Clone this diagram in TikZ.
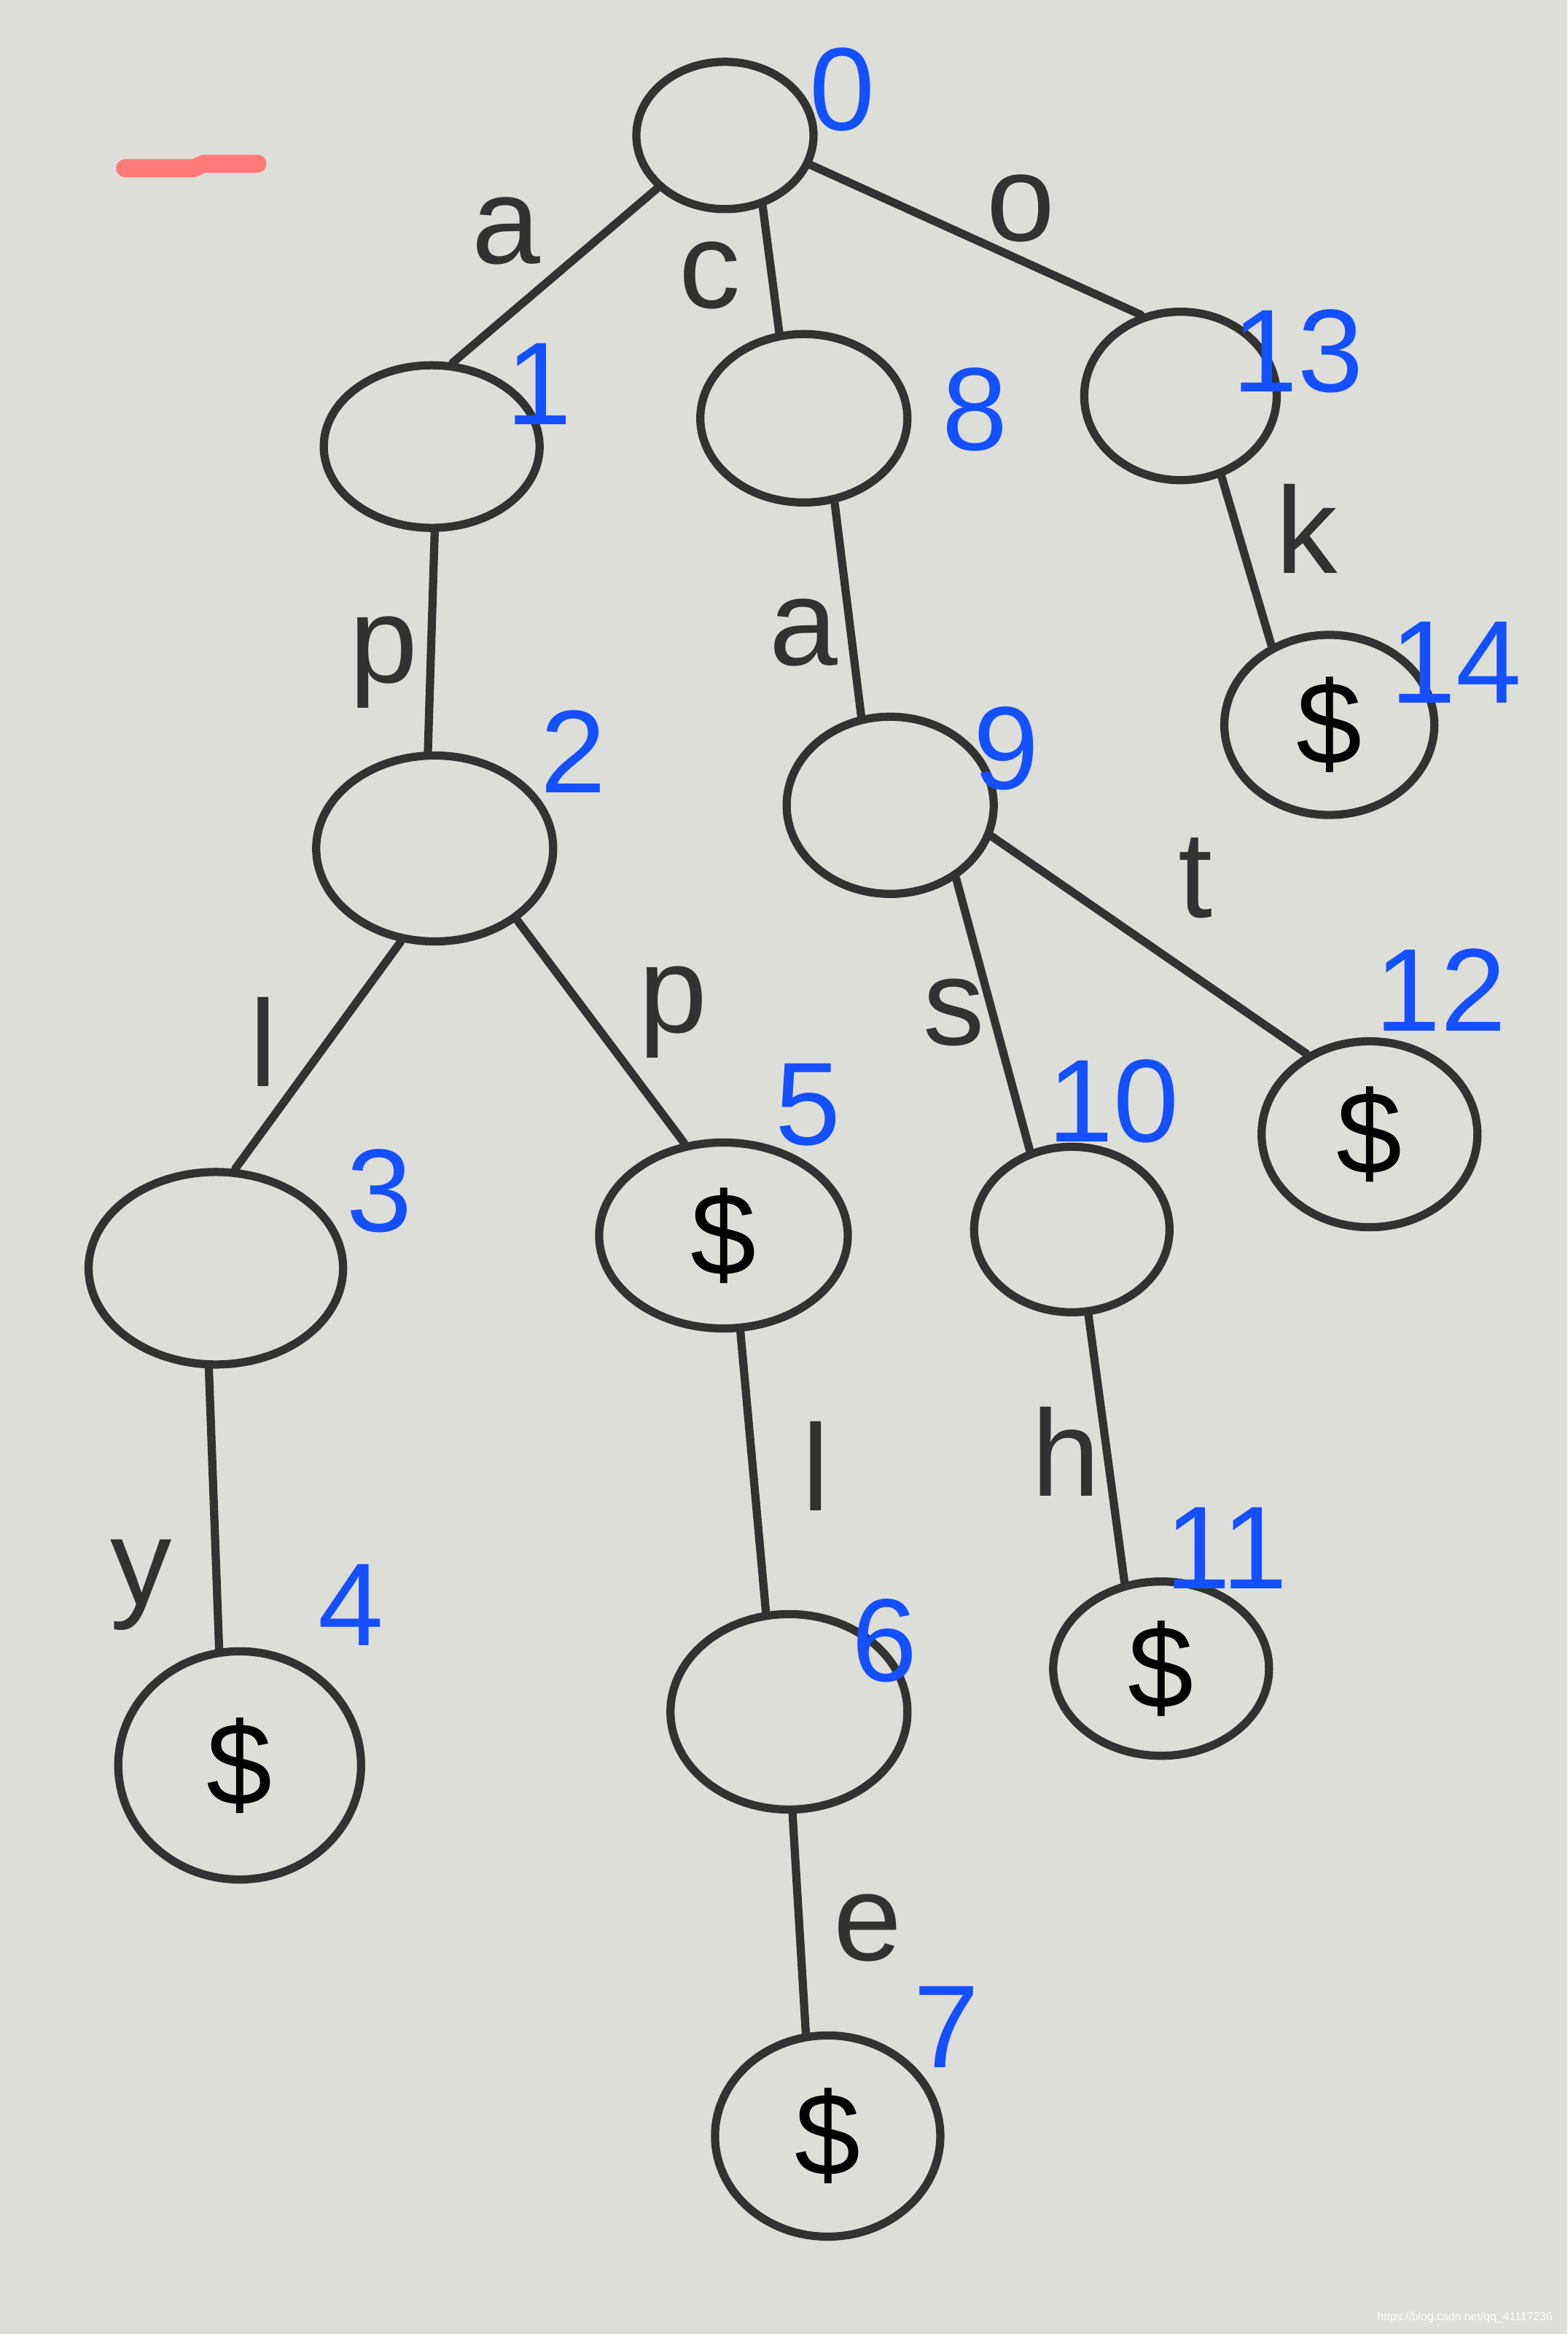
\documentclass[tikz,border=0pt]{standalone}
\usepackage{fontspec}
\setmainfont{Liberation Sans}
\usepackage{tikz}
\usetikzlibrary{shapes.geometric}
\definecolor{paper}{RGB}{222,222,216}
\definecolor{pen}{RGB}{50,50,50}
\definecolor{numblue}{RGB}{20,80,255}
\definecolor{marker}{RGB}{255,122,120}
\tikzset{ovalsize/.style 2 args={minimum width=#1cm,minimum height=#2cm}}
\begin{document}
\begin{tikzpicture}[x=0.020418cm,y=-0.020418cm]
\tikzstyle{state}=[draw=pen,shape=ellipse,line width=3.2pt,inner sep=0pt,font=\fontsize{46}{50}\selectfont];
\tikzstyle{letter}=[text=pen,font=\fontsize{48}{50}\selectfont];
\tikzstyle{num}=[text=numblue,font=\fontsize{46}{50}\selectfont];
\tikzstyle{edge}=[draw=pen,line width=3.2pt,line cap=round];
\fill[paper] (0,0) rectangle (1053,1568);
\draw[marker,line width=7pt,line cap=round] (84,113) -- (130,113) -- (137,110) -- (173,110);

% states of the trie
\node[state,ovalsize={2.43}{2.02}] (n0) at (487,91) {};
\node[state,ovalsize={2.96}{2.23}] (n1) at (290,300) {};
\node[state,ovalsize={2.84}{2.31}] (n8) at (540,281) {};
\node[state,ovalsize={2.64}{2.31}] (n13) at (793,266) {};
\node[state,ovalsize={3.25}{2.55}] (n2) at (292,570) {};
\node[state,ovalsize={2.84}{2.43}] (n9) at (598,541) {};
\node[state,ovalsize={2.88}{2.47}] (n14) at (893,487) {\$};
\node[state,ovalsize={3.49}{2.64}] (n3) at (145,852) {};
\node[state,ovalsize={3.41}{2.55}] (n5) at (486,830) {\$};
\node[state,ovalsize={2.68}{2.27}] (n10) at (720,826) {};
\node[state,ovalsize={2.96}{2.55}] (n12) at (920,762) {\$};
\node[state,ovalsize={3.33}{3.13}] (n4) at (161,1186) {\$};
\node[state,ovalsize={3.25}{2.68}] (n6) at (530,1150) {};
\node[state,ovalsize={2.96}{2.39}] (n11) at (780,1121) {\$};
\node[state,ovalsize={3.09}{2.76}] (n7) at (556,1435) {\$};

% edges
\draw[edge] (n0.218) -- (n1.76);
\draw[edge] (n0.298) -- (n8.106);
\draw[edge] (n0.341) -- (n13.116);
\draw[edge] (n1.272) -- (n2.94);
\draw[edge] (n8.290) -- (n9.108);
\draw[edge] (n13.297) -- (n14.126);
\draw[edge] (n2.250) -- (n3.79);
\draw[edge] (n2.319) -- (n5.113);
\draw[edge] (n9.312) -- (n10.118);
\draw[edge] (n9.343) -- (n12.128);
\draw[edge] (n3.266) -- (n4.100);
\draw[edge] (n5.280) -- (n6.103);
\draw[edge] (n10.281) -- (n11.113);
\draw[edge] (n6.272) -- (n7.102);

% edge letters
\node[letter] (la) at (340,155) {a};
\node[letter] (lc) at (477,185) {c};
\node[letter] (lo) at (686,140) {o};
\node[letter] (lp) at (258,445) {p};
\node[letter] (la2) at (540,425) {a};
\node[letter] (lk) at (878,355) {k};
\node[letter] (ll) at (177,700) {l};
\node[letter] (lp2) at (452,680) {p};
\node[letter] (ls) at (641,680) {s};
\node[letter] (lt) at (803,590) {t};
\node[letter] (ly) at (95,1065) {y};
\node[letter] (ll2) at (548,985) {l};
\node[letter] (lh) at (716,975) {h};
\node[letter] (le) at (583,1295) {e};

% state numbers
\node[num] (k0) at (566,60) {0};
\node[num] (k1) at (362,258) {1};
\node[num] (k8) at (655,275) {8};
\node[num] (k13) at (872,236) {13};
\node[num] (k2) at (385,505) {2};
\node[num] (k9) at (676,503) {9};
\node[num] (k14) at (978,445) {14};
\node[num] (k3) at (255,800) {3};
\node[num] (k5) at (543,742) {5};
\node[num] (k10) at (748,740) {10};
\node[num] (k12) at (968,665) {12};
\node[num] (k4) at (236,1078) {4};
\node[num] (k6) at (594,1102) {6};
\node[num] (k11) at (824,1040) {11};
\node[num] (k7) at (636,1362) {7};

\node[text=white,font=\fontsize{4.5}{5}\selectfont,anchor=east] (wm) at (1049,1557) {https://blog.csdn.net/qq\_41117236};
\end{tikzpicture}
\end{document}
